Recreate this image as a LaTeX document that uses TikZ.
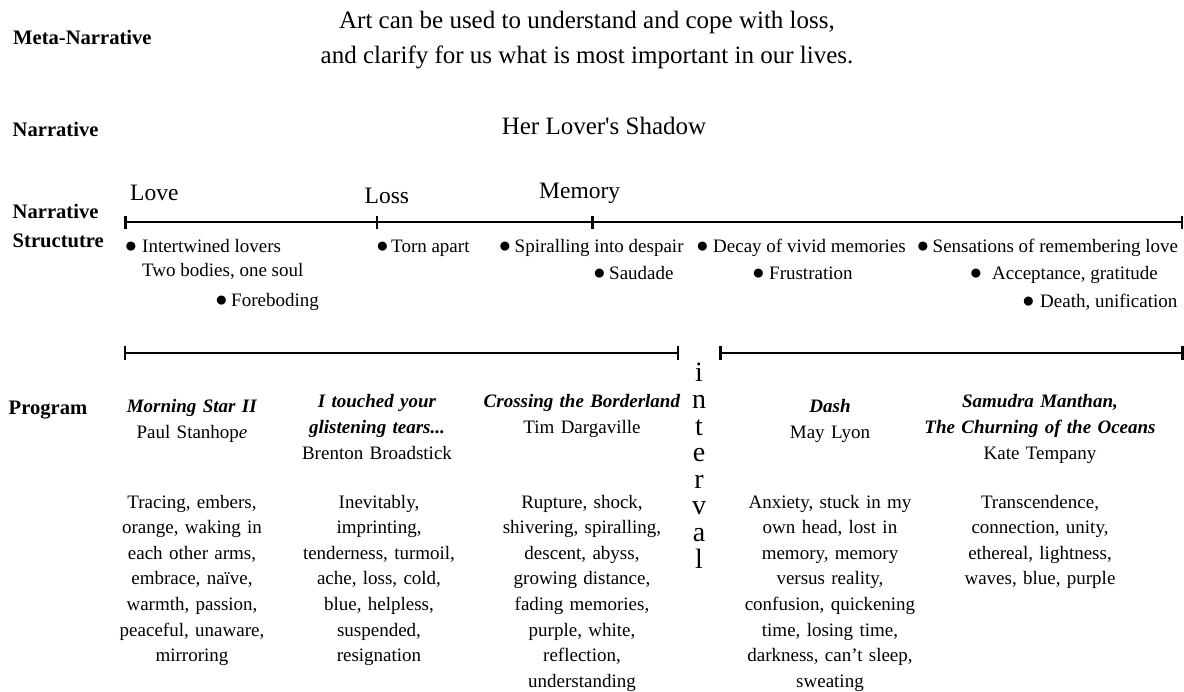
\documentclass[tikz,border=0pt]{standalone}
\usepackage{fontspec}
\setmainfont{Liberation Serif}
\begin{document}
\begin{tikzpicture}[x=1pt,y=-1pt,
  lab/.style={font=\fontsize{20.6}{24}\selectfont\bfseries, anchor=base west, inner sep=0},
  big/.style={font=\fontsize{25}{30}\selectfont, anchor=base, inner sep=0},
  phs/.style={font=\fontsize{23.5}{28}\selectfont, anchor=base west, inner sep=0},
  itm/.style={font=\fontsize{19}{25}\selectfont, anchor=base west, inner sep=0},
  bul/.style={font=\fontsize{21}{25}\selectfont, anchor=base, inner sep=0},
  col/.style={font=\fontsize{19}{25.6}\selectfont, anchor=base, inner sep=0, text width=300pt, align=center},
  tl/.style={line width=2.8pt},
  tickmark/.style={line width=2.6pt}]
\fill[white] (0,0) rectangle (1184,692);
\useasboundingbox (0,0) rectangle (1184,692);

% row labels
\node[lab] (lmeta) at (13,45) {Meta-Narrative};
\node[lab] (lnarr) at (12.5,137) {Narrative};
\node[lab] (lstructa) at (12.5,219) {Narrative};
\node[lab] (lstructb) at (12.5,247.5) {Structutre};
\node[lab] (lprog) at (8.5,415) {Program};

% meta-narrative and narrative
\node[big] (metaa) at (587,28.5) {Art can be used to understand and cope with loss,};
\node[big] (metab) at (587,63.5) {and clarify for us what is most important in our lives.};
\node[big] (title) at (604,135) {Her Lover{\addfontfeatures{Ligatures=TeXOff}'}s Shadow};

% phases
\node[phs] (love) at (130,200.7) {Love};
\node[phs] (loss) at (364.5,204) {Loss};
\node[phs] (memory) at (539,199) {Memory};

% narrative timeline
\coordinate (s0) at (125.5,222);
\coordinate (s1) at (377,222);
\coordinate (s2) at (592.5,222);
\coordinate (s3) at (1182,222);
\draw[tl] (s0) -- (s3);
\foreach \cc in {s0,s1,s2,s3} \draw[tickmark] ([yshift=6pt]\cc) -- ([yshift=-7pt]\cc);

% bullets and items
\node[bul] (b1) at (131,253) {●};
\node[itm] (i1) at (142,253) {Intertwined lovers};
\node[itm] (i1b) at (142,277) {Two bodies, one soul};
\node[bul] (b2) at (221.5,307) {●};
\node[itm] (i2) at (231,307) {Foreboding};
\node[bul] (b3) at (382.5,253) {●};
\node[itm] (i3) at (391,253) {Torn apart};
\node[bul] (b4) at (505,253) {●};
\node[itm] (i4) at (514.5,253) {Spiralling into despair};
\node[bul] (b5) at (599.5,280) {●};
\node[itm] (i5) at (609,280) {Saudade};
\node[bul] (b6) at (702.5,253) {●};
\node[itm] (i6) at (713,253) {Decay of vivid memories};
\node[bul] (b7) at (758.5,280) {●};
\node[itm] (i7) at (769,280) {Frustration};
\node[bul] (b8) at (923,253) {●};
\node[itm] (i8) at (932.5,253) {Sensations of remembering love};
\node[bul] (b9) at (976,280) {●};
\node[itm] (i9) at (992,280) {Acceptance, gratitude};
\node[bul] (b10) at (1028.5,308) {●};
\node[itm] (i10) at (1040,308) {Death, unification};

% program timelines
\coordinate (p0) at (125,353);
\coordinate (p1) at (678,353);
\coordinate (p2) at (720.5,353);
\coordinate (p3) at (1182.5,353);
\draw[tl] (p0) -- (p1);
\draw[tl] (p2) -- (p3);
\foreach \cc in {p0,p1,p2,p3} \draw[tickmark] ([yshift=6.5pt]\cc) -- ([yshift=-7pt]\cc);

% interval
\node[font=\fontsize{28}{26.6}\selectfont, anchor=base, inner sep=0, text width=40pt, align=center] (interval) at (699,382) {i\\n\\t\\e\\r\\v\\a\\l};

% program headers
\node[col] (h1) at (192,413) {\textbf{\textit{Morning Star II}}\\Paul Stanhop\textit{e}};
\node[col] (h2) at (377,408) {\textbf{\textit{I touched your}}\\\textbf{\textit{glistening tears...}}\\Brenton Broadstick};
\node[col] (h3) at (582,408) {\textbf{\textit{Crossing the Borderland}}\\Tim Dargaville};
\node[col] (h4) at (830,413) {\textbf{\textit{Dash}}\\May Lyon};
\node[col] (h5) at (1040,408) {\textbf{\textit{Samudra Manthan,}}\\\textbf{\textit{The Churning of the Oceans}}\\Kate Tempany};

% program descriptions
\node[col] (d1) at (192,508) {Tracing, embers,\\orange, waking in\\each other arms,\\embrace, naïve,\\warmth, passion,\\peaceful, unaware,\\mirroring};
\node[col] (d2) at (379,508) {Inevitably,\\imprinting,\\tenderness, turmoil,\\ache, loss, cold,\\blue, helpless,\\suspended,\\resignation};
\node[col] (d3) at (582,508) {Rupture, shock,\\shivering, spiralling,\\descent, abyss,\\growing distance,\\fading memories,\\purple, white,\\reflection,\\understanding};
\node[col] (d4) at (830,508) {Anxiety, stuck in my\\own head, lost in\\memory, memory\\versus reality,\\confusion, quickening\\time, losing time,\\darkness, can’t sleep,\\sweating};
\node[col] (d5) at (1040,508) {Transcendence,\\connection, unity,\\ethereal, lightness,\\waves, blue, purple};
\end{tikzpicture}
\end{document}
